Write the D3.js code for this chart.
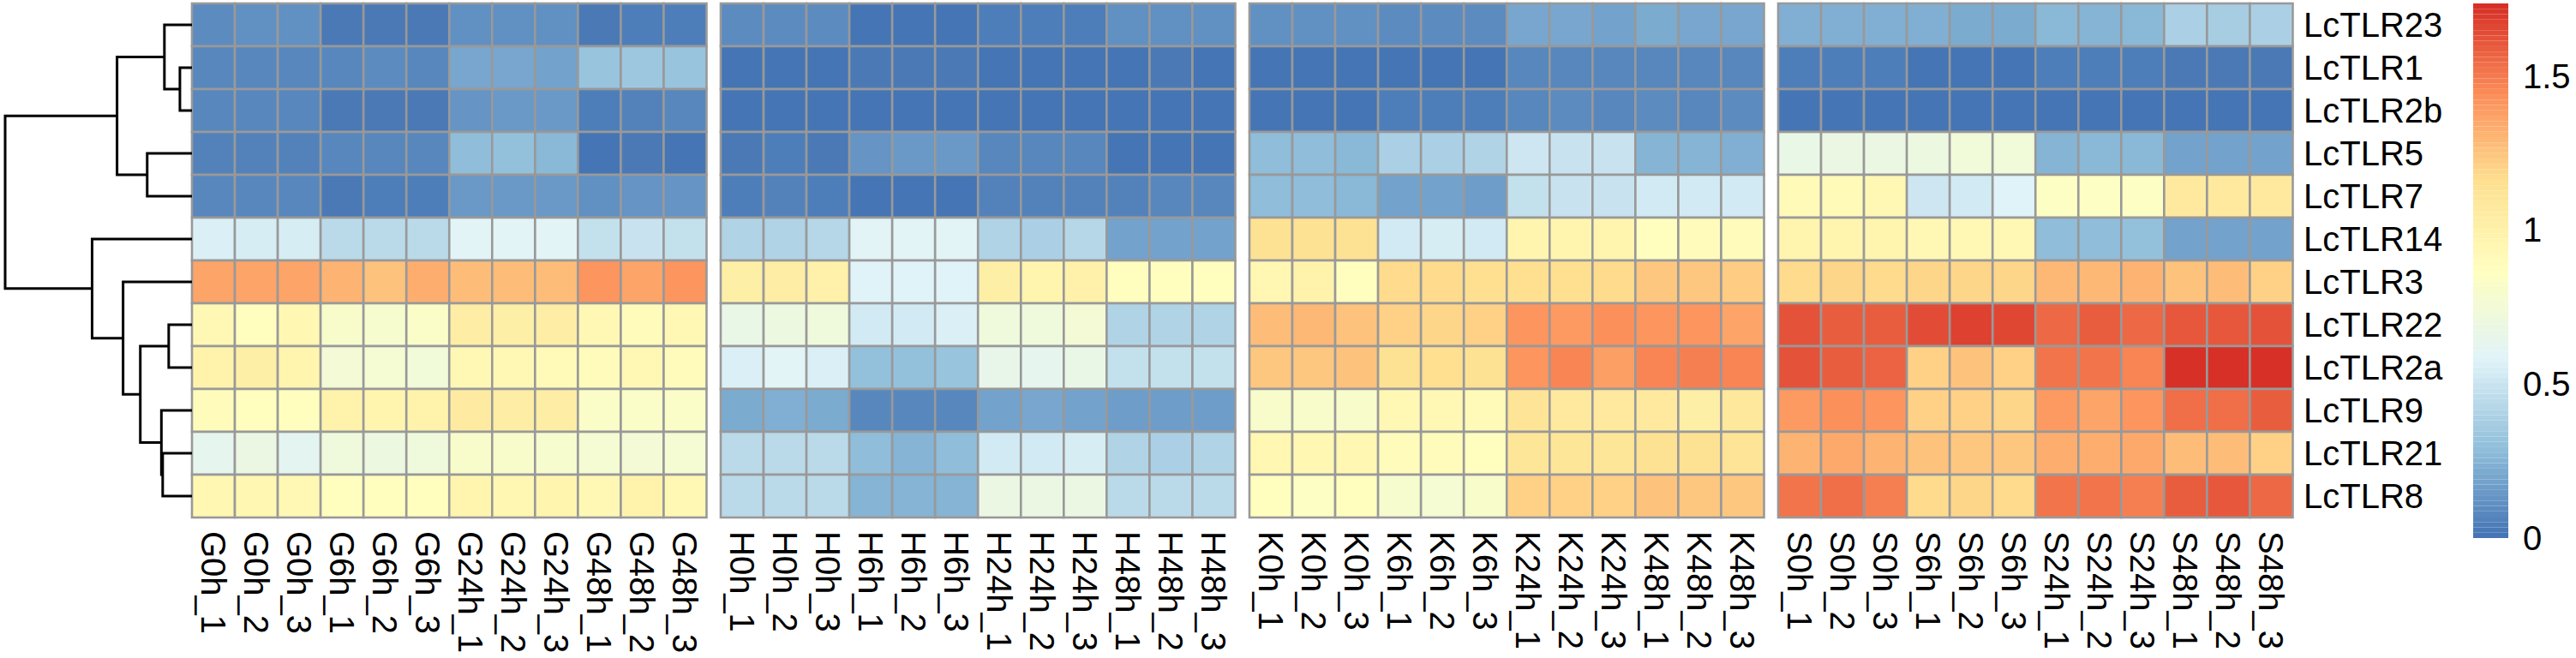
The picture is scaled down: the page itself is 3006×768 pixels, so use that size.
<!DOCTYPE html>
<html>
<head>
<meta charset="utf-8">
<script src="https://cdn.jsdelivr.net/npm/d3@7"></script>
<style>
  body { margin: 0; background: #fff; }
  text { font-family: "Liberation Sans", Arial, Helvetica, sans-serif; fill: #000; }
</style>
</head>
<body>
<svg id="chart" width="3006" height="768"></svg>
<script>
'use strict'

// genes, top to bottom as in the clustered heatmap
const genes = ['LcTLR23', 'LcTLR1', 'LcTLR2b', 'LcTLR5', 'LcTLR7', 'LcTLR14',
  'LcTLR3', 'LcTLR22', 'LcTLR2a', 'LcTLR9', 'LcTLR21', 'LcTLR8']

const groups = ['G', 'H', 'K', 'S']
const times = ['0h', '6h', '24h', '48h']
const reps = ['1', '2', '3']

// one 12 x 12 block per group (rows = genes, cols = time x replicate)
const exprG = [
  [0.10, 0.11, 0.11, 0.02, 0.02, 0.03, 0.11, 0.12, 0.11, 0.03, 0.04, 0.04],
  [0.07, 0.08, 0.08, 0.07, 0.09, 0.08, 0.20, 0.20, 0.19, 0.32, 0.33, 0.32],
  [0.07, 0.07, 0.07, 0.02, 0.03, 0.02, 0.13, 0.14, 0.15, 0.05, 0.06, 0.07],
  [0.06, 0.06, 0.06, 0.07, 0.08, 0.07, 0.28, 0.30, 0.27, 0.01, 0.02, 0.01],
  [0.07, 0.07, 0.07, 0.03, 0.04, 0.05, 0.14, 0.14, 0.14, 0.12, 0.13, 0.13],
  [0.57, 0.55, 0.55, 0.44, 0.45, 0.44, 0.59, 0.59, 0.60, 0.48, 0.50, 0.47],
  [1.36, 1.37, 1.36, 1.31, 1.26, 1.32, 1.28, 1.28, 1.27, 1.41, 1.36, 1.41],
  [0.93, 0.87, 0.94, 0.80, 0.79, 0.82, 1.03, 1.02, 1.04, 0.93, 0.90, 0.92],
  [0.98, 1.01, 0.96, 0.75, 0.78, 0.74, 0.93, 0.93, 0.91, 0.90, 0.92, 0.90],
  [0.89, 0.87, 0.88, 0.98, 0.97, 0.98, 1.05, 1.04, 1.03, 0.83, 0.82, 0.83],
  [0.64, 0.69, 0.61, 0.72, 0.70, 0.72, 0.80, 0.80, 0.79, 0.77, 0.76, 0.78],
  [0.94, 0.95, 0.93, 0.88, 0.88, 0.87, 0.96, 0.95, 0.96, 0.93, 0.98, 0.93]
]
const exprH = [
  [0.09, 0.10, 0.10, 0.01, 0.01, 0.01, 0.05, 0.05, 0.05, 0.11, 0.12, 0.11],
  [0.00, 0.00, 0.00, 0.02, 0.02, 0.02, 0.00, 0.00, 0.00, 0.01, 0.02, 0.01],
  [0.00, 0.00, 0.00, 0.01, 0.01, 0.01, 0.00, 0.00, 0.00, 0.00, 0.01, 0.00],
  [0.03, 0.04, 0.03, 0.13, 0.14, 0.15, 0.07, 0.08, 0.07, 0.00, 0.01, 0.00],
  [0.05, 0.06, 0.05, 0.00, 0.00, 0.00, 0.06, 0.06, 0.06, 0.06, 0.07, 0.07],
  [0.41, 0.41, 0.42, 0.60, 0.60, 0.59, 0.40, 0.39, 0.42, 0.19, 0.19, 0.19],
  [1.01, 1.04, 1.00, 0.58, 0.58, 0.58, 1.02, 0.97, 1.00, 0.87, 0.87, 0.87],
  [0.66, 0.70, 0.72, 0.53, 0.53, 0.56, 0.72, 0.72, 0.75, 0.40, 0.40, 0.41],
  [0.57, 0.60, 0.56, 0.31, 0.31, 0.32, 0.65, 0.63, 0.66, 0.48, 0.48, 0.48],
  [0.22, 0.23, 0.21, 0.07, 0.07, 0.08, 0.19, 0.20, 0.18, 0.16, 0.17, 0.16],
  [0.44, 0.45, 0.44, 0.28, 0.26, 0.28, 0.53, 0.53, 0.54, 0.40, 0.39, 0.40],
  [0.44, 0.44, 0.44, 0.26, 0.26, 0.26, 0.69, 0.69, 0.68, 0.45, 0.45, 0.45]
]
const exprK = [
  [0.11, 0.11, 0.11, 0.09, 0.09, 0.10, 0.20, 0.20, 0.19, 0.21, 0.20, 0.20],
  [0.00, 0.00, 0.00, 0.00, 0.00, 0.00, 0.08, 0.08, 0.07, 0.07, 0.07, 0.07],
  [0.00, 0.00, 0.00, 0.04, 0.04, 0.05, 0.08, 0.09, 0.08, 0.09, 0.08, 0.09],
  [0.28, 0.29, 0.27, 0.39, 0.39, 0.40, 0.52, 0.50, 0.50, 0.25, 0.25, 0.24],
  [0.28, 0.29, 0.27, 0.18, 0.18, 0.17, 0.47, 0.49, 0.49, 0.53, 0.53, 0.53],
  [1.13, 1.13, 1.14, 0.53, 0.55, 0.53, 0.96, 0.96, 0.96, 0.88, 0.89, 0.90],
  [0.94, 0.98, 0.87, 1.17, 1.17, 1.16, 1.15, 1.15, 1.17, 1.24, 1.24, 1.23],
  [1.27, 1.29, 1.26, 1.20, 1.19, 1.20, 1.42, 1.39, 1.43, 1.41, 1.42, 1.37],
  [1.24, 1.24, 1.25, 1.14, 1.15, 1.14, 1.41, 1.46, 1.38, 1.46, 1.48, 1.46],
  [0.80, 0.81, 0.80, 0.92, 0.92, 0.91, 1.12, 1.07, 1.07, 1.07, 1.02, 1.08],
  [0.95, 0.94, 0.95, 0.90, 0.89, 0.88, 1.10, 1.10, 1.11, 1.14, 1.13, 1.12],
  [0.87, 0.85, 0.87, 0.79, 0.77, 0.80, 1.20, 1.20, 1.20, 1.26, 1.24, 1.24]
]
const exprS = [
  [0.24, 0.23, 0.23, 0.23, 0.22, 0.22, 0.27, 0.26, 0.27, 0.39, 0.38, 0.39],
  [0.04, 0.04, 0.04, 0.00, 0.00, 0.01, 0.05, 0.05, 0.05, 0.02, 0.03, 0.02],
  [0.00, 0.00, 0.00, 0.00, 0.01, 0.01, 0.00, 0.00, 0.00, 0.00, 0.01, 0.01],
  [0.67, 0.68, 0.68, 0.71, 0.73, 0.74, 0.25, 0.27, 0.27, 0.19, 0.19, 0.19],
  [0.91, 0.91, 0.92, 0.52, 0.53, 0.58, 0.84, 0.84, 0.84, 1.07, 1.07, 1.07],
  [0.96, 0.97, 0.97, 0.93, 0.93, 0.92, 0.28, 0.28, 0.30, 0.19, 0.19, 0.18],
  [1.17, 1.18, 1.17, 1.18, 1.18, 1.18, 1.30, 1.30, 1.31, 1.26, 1.27, 1.21],
  [1.62, 1.59, 1.59, 1.64, 1.68, 1.66, 1.56, 1.58, 1.56, 1.60, 1.61, 1.62],
  [1.62, 1.58, 1.57, 1.21, 1.25, 1.21, 1.51, 1.51, 1.47, 1.72, 1.73, 1.735],
  [1.40, 1.43, 1.41, 1.20, 1.20, 1.19, 1.40, 1.37, 1.42, 1.54, 1.53, 1.58],
  [1.31, 1.34, 1.31, 1.25, 1.24, 1.24, 1.33, 1.33, 1.34, 1.27, 1.28, 1.21],
  [1.52, 1.53, 1.49, 1.17, 1.18, 1.17, 1.52, 1.51, 1.49, 1.58, 1.61, 1.55]
]
const blocks = [exprG, exprH, exprK, exprS]

// row clustering, hclust style: negative = leaf (1-based gene index), positive = earlier merge
const merges = [
  [-2, -3, 0.14],
  [-1, 1, 0.32],
  [-4, -5, 0.52],
  [2, 3, 0.87],
  [-8, -9, 0.27],
  [-11, -12, 0.34],
  [-10, 6, 0.355],
  [5, 7, 0.60],
  [-7, 8, 0.80],
  [-6, 9, 1.16],
  [4, 10, 2.17]
]

const legendTicks = [0, 0.5, 1, 1.5]
const paletteStops = ['#4575B4', '#91BFDB', '#E0F3F8', '#FFFFBF', '#FEE090', '#FC8D59', '#D73027']

const svg = d3.select('#chart')
svg.append('rect').attr('width', 3006).attr('height', 768).attr('fill', '#fff')

const samples = []
times.forEach(t => reps.forEach(r => samples.push(`${t}_${r}`)))

const panelX = d3.scaleBand().domain(groups).range([224, 2675.5]).paddingInner(0.02674)
const colX = d3.scaleBand().domain(samples).range([0, panelX.bandwidth()])
const rowY = d3.scaleBand().domain(genes).range([4, 604])

const allValues = blocks.flat(2)
const vMin = d3.min(allValues)
const vMax = d3.max(allValues)
const ramp = d3.piecewise(d3.interpolateRgb, paletteStops)
const palette = d3.range(100).map(i => ramp(i / 99))
const color = d3.scaleQuantize().domain([vMin, vMax]).range(palette)

// heatmap cells
const cells = []
groups.forEach((g, gi) => {
  genes.forEach((gene, ri) => {
    samples.forEach((s, ci) => {
      cells.push({ group: g, gene, sample: s, value: blocks[gi][ri][ci] })
    })
  })
})

svg.append('g').attr('class', 'cells')
  .selectAll('rect')
  .data(cells)
  .join('rect')
  .attr('x', d => panelX(d.group) + colX(d.sample))
  .attr('y', d => rowY(d.gene))
  .attr('width', colX.bandwidth())
  .attr('height', rowY.bandwidth())
  .attr('fill', d => color(d.value))
  .attr('stroke', '#999999')
  .attr('stroke-width', 2.6)

// column labels, rotated to read downward
const colLabels = []
groups.forEach(g => samples.forEach(s => colLabels.push({ group: g, sample: s })))

svg.append('g').attr('class', 'col-labels')
  .selectAll('text')
  .data(colLabels)
  .join('text')
  .attr('x', d => panelX(d.group) + colX(d.sample) + colX.bandwidth() / 2)
  .attr('y', 620)
  .attr('transform', d => `rotate(90,${panelX(d.group) + colX(d.sample) + colX.bandwidth() / 2},620)`)
  .attr('dy', '0.35em')
  .attr('font-size', 40)
  .text(d => d.group + d.sample)

// row labels
svg.append('g').attr('class', 'row-labels')
  .selectAll('text')
  .data(genes)
  .join('text')
  .attr('x', 2688)
  .attr('y', d => rowY(d) + rowY.bandwidth() / 2)
  .attr('dy', '0.35em')
  .attr('font-size', 40)
  .text(d => d)

// dendrogram
function buildTree(list) {
  const nodes = []
  list.forEach(([a, b, h]) => {
    const kid = k => (k < 0 ? { name: genes[-k - 1], height: 0 } : nodes[k - 1])
    nodes.push({ height: h, children: [kid(a), kid(b)] })
  })
  return nodes[nodes.length - 1]
}

const root = d3.hierarchy(buildTree(merges))
root.eachAfter(n => {
  n.yc = n.children ? d3.mean(n.children, c => c.yc) : rowY(n.data.name) + rowY.bandwidth() / 2
})
const dx = d3.scaleLinear().domain([0, root.data.height]).range([224, 6])

svg.append('g').attr('class', 'dendrogram')
  .selectAll('path')
  .data(root.descendants().filter(n => n.children))
  .join('path')
  .attr('d', n => {
    const [a, b] = n.children
    return `M${dx(a.data.height)},${a.yc}H${dx(n.data.height)}V${b.yc}H${dx(b.data.height)}`
  })
  .attr('fill', 'none')
  .attr('stroke', '#000')
  .attr('stroke-width', 3)

// colour legend
const legendY = d3.scaleLinear().domain([vMin, vMax]).range([628, 4])
const breaks = d3.range(101).map(i => vMin + (vMax - vMin) * i / 100)
const legend = svg.append('g').attr('class', 'legend')

legend.selectAll('rect')
  .data(d3.range(100))
  .join('rect')
  .attr('x', 2886)
  .attr('y', i => legendY(breaks[i + 1]))
  .attr('width', 41)
  .attr('height', i => legendY(breaks[i]) - legendY(breaks[i + 1]))
  .attr('fill', i => palette[i])

legend.selectAll('text')
  .data(legendTicks)
  .join('text')
  .attr('x', 2944)
  .attr('y', d => legendY(d))
  .attr('dy', '0.35em')
  .attr('font-size', 40)
  .text(d => d)
</script>
</body>
</html>
